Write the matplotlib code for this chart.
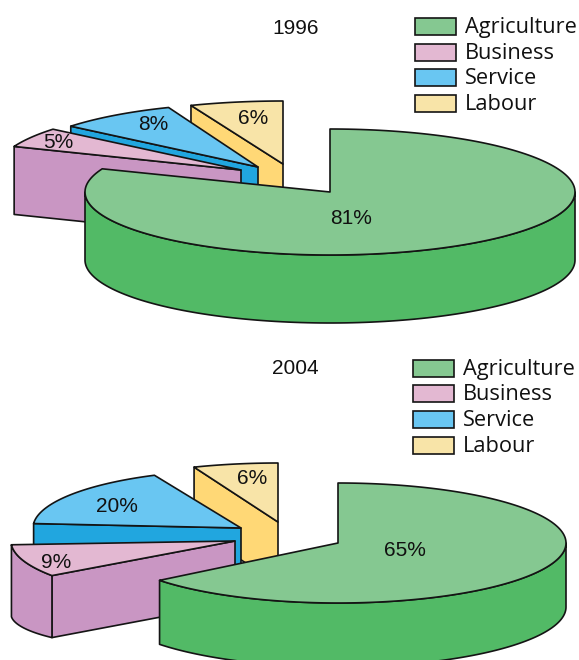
import numpy as np
import matplotlib
matplotlib.use('Agg')
import matplotlib.pyplot as plt
from matplotlib.patches import Polygon, Rectangle

categories = ['Agriculture', 'Business', 'Service', 'Labour']
values_1996 = [81, 5, 8, 6]
values_2004 = [65, 9, 20, 6]

top_colors = ['#85C891', '#E3B8D2', '#69C6F2', '#F8E4A8']
side_colors = ['#52BA66', '#C996C3', '#21A6DF', '#FFD876']
edge = '#141414'

plt.rcParams['font.family'] = ['Liberation Sans', 'DejaVu Sans']

# wedge layout in pixels: apex x, apex y, rx, ry, depth, outer depth, start and end angle tweak
layout_1996 = [
    (330, 192, 245, 63, 68, 68, 0, 0),
    (241, 170, 244, 64, 68, 68, 0, 0),
    (258, 167, 243, 64, 68, 68, 0, 0),
    (283, 164, 250, 63, 68, 68, 0, 0),
]
layout_2004 = [
    (338, 543, 228, 60, 64, 64, 0, -2.5),
    (235, 541, 224, 60, 62, 72, 0.8, 0),
    (241, 528, 208, 58, 62, 62, 8, -3),
    (278, 522, 228, 59, 62, 62, 0, 0),
]


def rim(cx, cy, rx, ry, angles):
    a = np.radians(angles)
    return cx + rx * np.sin(a), cy - ry * np.cos(a)


def draw_wedge(ax, start, stop, layout, top, side):
    cx, cy, rx, ry, depth, outer, d0, d1 = layout
    start += d0
    stop += d1
    style = dict(edgecolor=edge, linewidth=1.2, joinstyle='round')

    # flat wall along the starting radius
    x0, y0 = rim(cx, cy, rx, ry, np.array([start]))
    wall = [(cx, cy), (x0[0], y0[0]), (x0[0], y0[0] + depth), (cx, cy + depth)]
    if start > 0:
        ax.add_patch(Polygon(wall, facecolor=side, **style))

    # curved wall, only the part that faces the viewer
    lo, hi = max(start, 90), min(stop, 270)
    if lo < hi:
        angles = np.linspace(lo, hi, 120)
        x, y = rim(cx, cy, rx, ry, angles)
        drop = depth + (outer - depth) * (angles - start) / (stop - start)
        pts = np.vstack([np.column_stack([x, y]),
                         np.column_stack([x, y + drop])[::-1]])
        ax.add_patch(Polygon(pts, facecolor=side, **style))

    # top face
    angles = np.linspace(start, stop, 200)
    x, y = rim(cx, cy, rx, ry, angles)
    pts = np.vstack([[(cx, cy)], np.column_stack([x, y])])
    ax.add_patch(Polygon(pts, facecolor=top, **style))


def draw_pie(ax, values, layout):
    bounds = np.cumsum([0] + values) * 3.6
    # back pieces first, agriculture sits in front of the rest
    for i in [3, 2, 1, 0]:
        draw_wedge(ax, bounds[i], bounds[i + 1], layout[i], top_colors[i], side_colors[i])


def draw_legend(ax, x, ys):
    for name, y, color in zip(categories, ys, top_colors):
        ax.add_patch(Rectangle((x, y - 8.5), 41, 17, facecolor=color,
                               edgecolor=edge, linewidth=1.2))
        ax.text(x + 50, y + 1.2, name, fontsize=15.7, family=['Open Sans', 'DejaVu Sans'],
                color='#111111', va='center', ha='left')


fig = plt.figure(figsize=(5.79, 6.6), dpi=100)
ax = fig.add_axes([0, 0, 1, 1])
ax.set_xlim(0, 579)
ax.set_ylim(660, 0)
ax.axis('off')

draw_pie(ax, values_1996, layout_1996)
draw_pie(ax, values_2004, layout_2004)

ax.text(296, 28, '1996', fontsize=15, ha='center', va='center', color='#111111')
ax.text(295, 369, '2004', fontsize=15, ha='center', va='center', color='#111111')

draw_legend(ax, 415, [26, 52, 77, 103])
draw_legend(ax, 413, [368, 393, 419, 445])

label_pos_1996 = [(351, 219), (58, 143), (153, 125), (253, 119)]
label_pos_2004 = [(405, 550), (56, 562), (117, 506), (252, 479)]
for vals, spots in [(values_1996, label_pos_1996), (values_2004, label_pos_2004)]:
    for v, (px, py) in zip(vals, spots):
        ax.text(px, py, f'{v}%', fontsize=15, ha='center', va='center', color='#111111')

fig.savefig('out.png', dpi=100)
